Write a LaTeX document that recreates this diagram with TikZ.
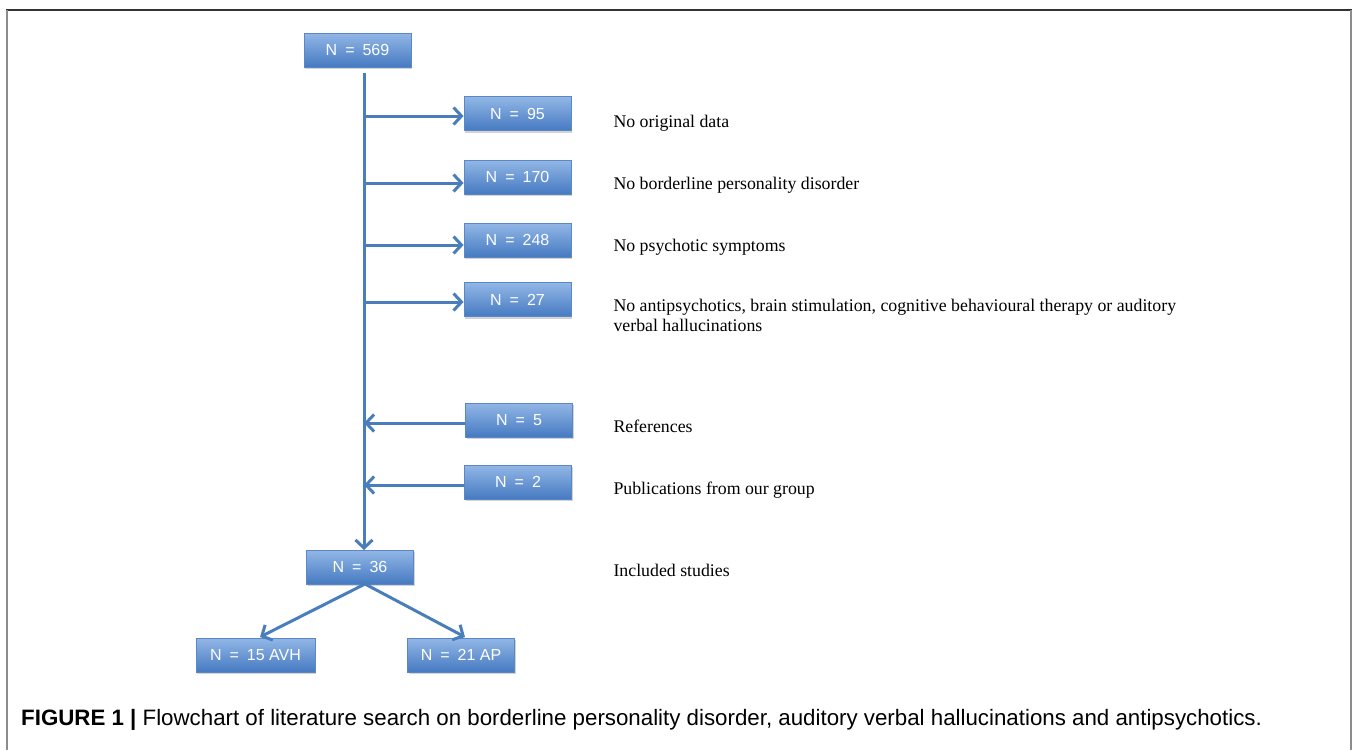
\documentclass[tikz,border=0pt]{standalone}
\usepackage{fontspec}
\setmainfont{Liberation Serif}
\setsansfont{Liberation Sans}
\usetikzlibrary{arrows.meta,shadows}
\definecolor{boxtop}{HTML}{92B7E6}
\definecolor{boxbot}{HTML}{467AC2}
\definecolor{boxline}{HTML}{5A88C6}
\definecolor{flow}{HTML}{4A7EBB}
\tikzset{>={Straight Barb[length=8pt,width=17pt,line width=3pt]},
  nbox/.style={rectangle,draw=boxline,line width=0.8pt,top color=boxtop,
    bottom color=boxbot,minimum width=107pt,minimum height=34pt,
    text=white,font=\sffamily\fontsize{16}{16}\selectfont,
    drop shadow={opacity=0.35,shadow xshift=1pt,shadow yshift=-2pt}},
  why/.style={anchor=base west,font=\fontsize{17.8}{20}\selectfont,align=left},
  flowline/.style={draw=flow,line width=3pt}}
\newcommand*{\nn}[1]{N\enspace=\enspace#1}

\begin{document}
\begin{tikzpicture}[x=1pt,y=-1pt]
\useasboundingbox (0,0) rectangle (1358,750);
% frame
\draw[black!80,line width=1.5pt] (6,10) -- (1352,10);
\draw[black!45,line width=1.8pt] (7,10) -- (7,750);
\draw[black!45,line width=1.8pt] (1351,10) -- (1351,750);
% boxes
\node[nbox] (top) at (357.5,50) {\nn{569}};
\node[nbox] (n95) at (517.5,113.5) {\nn{95}};
\node[nbox] (n170) at (517.5,177) {\nn{170}};
\node[nbox] (n248) at (517.5,240) {\nn{248}};
\node[nbox] (n27) at (517.5,299.5) {\nn{27}};
\node[nbox] (n5) at (519,420) {\nn{5}};
\node[nbox] (n2) at (518,482) {\nn{2}};
\node[nbox] (n36) at (360,567) {\nn{36}};
\node[nbox,minimum width=119pt] (avh) at (255.5,655) {\nn{15 AVH}};
\node[nbox] (ap) at (461,655) {\nn{21 AP}};
% spine
\coordinate (s0) at (364,73);
\coordinate (s1) at (364,116);
\coordinate (s2) at (364,183);
\coordinate (s3) at (364,245);
\coordinate (s4) at (364,302);
\coordinate (s5) at (364,423);
\coordinate (s6) at (364,485);
\coordinate (s7) at (364,550);
\draw[flowline,->] (s0) -- (s7);
\draw[flowline,->] (s1) -- (s1 -| n95.west);
\draw[flowline,->] (s2) -- (s2 -| n170.west);
\draw[flowline,->] (s3) -- (s3 -| n248.west);
\draw[flowline,->] (s4) -- (s4 -| n27.west);
\draw[flowline,->] (s5 -| n5.west) -- (s5);
\draw[flowline,->] (s6 -| n2.west) -- (s6);
\coordinate (fork) at (365,584);
\draw[flowline,->] (fork) -- (260,637);
\draw[flowline,->] (fork) -- (465,637);
% reasons
\node[why] (t95) at (610,127) {No original data};
\node[why] (t170) at (610,189) {No borderline personality disorder};
\node[why] (t248) at (610,251) {No psychotic symptoms};
\node[why] (t27) at (610,331) {No antipsychotics, brain stimulation, cognitive behavioural therapy or auditory\\verbal hallucinations};
\node[why] (t5) at (610,432) {References};
\node[why] (t2) at (610,494) {Publications from our group};
\node[why] (t36) at (610,576) {Included studies};
% caption
\node[anchor=base west,inner sep=0pt,font=\sffamily\fontsize{22.3}{24}\selectfont] (cap) at (21,725)
  {\textbf{FIGURE 1 |} Flowchart of literature search on borderline personality disorder, auditory verbal hallucinations and antipsychotics.};
\end{tikzpicture}
\end{document}
